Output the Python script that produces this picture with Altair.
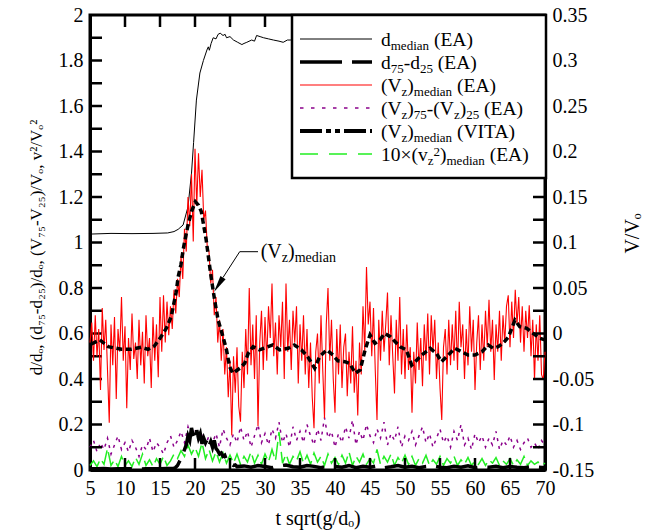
import altair as alt
import pandas as pd

FONT = "Liberation Serif"
W, H = 455, 455

# ---------------- data ----------------
# d_median (EA), d/d_o
dmed_t = [5.0, 8.0, 11.0, 14.0, 16.1, 17.0, 17.6, 18.3, 19.0, 19.5, 19.8, 20.2, 20.7, 21.2, 21.7,
          21.9, 22.05, 22.3, 22.6, 23.0, 23.3, 23.6, 24.0, 24.3, 24.5, 25.0, 25.5, 26.1, 26.7, 27.0,
          27.4, 28.1, 28.5, 28.8, 29.3, 29.8, 30.5, 31.2, 32.0, 32.6, 33.2, 33.6, 36.0, 40.0, 45.0,
          50.0, 55.0, 60.0, 65.0, 70.0]
dmed_v = [1.037, 1.040, 1.039, 1.040, 1.042, 1.048, 1.058, 1.077, 1.157, 1.305, 1.440, 1.626, 1.745, 1.800, 1.846,
          1.860, 1.845, 1.875, 1.900, 1.895, 1.915, 1.920, 1.910, 1.915, 1.900, 1.905, 1.890, 1.880, 1.870, 1.875,
          1.880, 1.890, 1.885, 1.910, 1.905, 1.900, 1.895, 1.890, 1.885, 1.880, 1.890, 1.890, 1.900, 1.890, 1.900,
          1.900, 1.890, 1.900, 1.890, 1.900]

# d75-d25 (EA), d/d_o
dspr_t = [5, 6, 7, 8, 9, 10, 11, 12, 13, 14, 15, 16, 17,
          17.25, 17.5, 17.75, 18.0, 18.25, 18.5, 18.75, 19.0, 19.25, 19.5, 19.75, 20.0, 20.25, 20.5,
          20.75, 21.0, 21.25, 21.5, 21.75, 22.0, 22.25, 22.5, 22.75, 23.0, 23.25, 23.5, 23.75, 24.0,
          24.25, 24.5, 24.75, 25.0, 25.25, 25.5, 25.75, 26.0,
          27, 28, 29, 30, 31, 32, 33, 34, 35, 36, 37, 38, 39, 40, 41, 42, 43, 44, 45, 46, 47, 48,
          49, 50, 51, 52, 53, 54, 55, 56, 57, 58, 59, 60, 61, 62, 63, 64, 65, 66, 67, 68, 69, 70]
dspr_v = [0.006, 0.005, 0.007, 0.004, 0.006, 0.005, 0.006, 0.004, 0.005, 0.006, 0.005, 0.007, 0.008,
          0.012, 0.020, 0.035, 0.050, 0.070, 0.090, 0.110, 0.150, 0.130, 0.185, 0.150, 0.130, 0.175, 0.140,
          0.160, 0.115, 0.140, 0.120, 0.135, 0.105, 0.125, 0.100, 0.130, 0.095, 0.085, 0.070, 0.075, 0.060,
          0.065, 0.045, 0.040, 0.030, 0.025, 0.020, 0.022, 0.015,
          0.018, 0.012, 0.020, 0.015, 0.010, 0.018, 0.022, 0.014, 0.012, 0.020, 0.016, 0.010, 0.018, 0.015,
          0.012, 0.020, 0.010, 0.016, 0.012, 0.018, 0.010, 0.014, 0.020, 0.012, 0.016, 0.010, 0.015, 0.018,
          0.012, 0.010, 0.016, 0.012, 0.018, 0.010, 0.014, 0.012, 0.016, 0.010, 0.015, 0.012, 0.010, 0.014,
          0.012, 0.010]

# (Vz)median (EA), V/V_o, one value every 0.25 from t = 5
red_a = [-0.010, 0.012, -0.030, 0.020, -0.025, 0.005, -0.062, 0.028, -0.018, 0.015,
         -0.040, -0.098, 0.010, -0.035, 0.018, -0.072, 0.005, -0.020, 0.040, -0.030,
         0.008, -0.082, -0.005, -0.040, 0.022, -0.028, -0.010, -0.050, 0.015, -0.035,
         0.002, -0.055, 0.020, -0.025, -0.005, -0.060, 0.018, -0.030, 0.010, -0.048,
         0.040]
red_b = [-0.020, 0.042, -0.010, 0.035, -0.002, 0.030, 0.005, 0.048, 0.022, 0.060,
         0.040, 0.085, 0.060, 0.115, 0.090, 0.150, 0.118, 0.175, 0.101, 0.203,
         0.140, 0.198, 0.150, 0.180, 0.125, 0.135, 0.095, 0.090, 0.055, 0.070,
         0.020, 0.040, -0.010, 0.015, -0.030, 0.005, -0.045, -0.015, -0.070, -0.030,
         -0.112, -0.025, -0.065, -0.015, -0.080, -0.097, -0.020, -0.060, 0.005, -0.045,
         0.050, -0.035]
red_c = [0.010, -0.050, 0.020, -0.102, -0.010, 0.025, -0.040, 0.018, -0.030, 0.030,
         -0.005, 0.055, -0.025, 0.012, -0.045, 0.020, -0.015, 0.035, -0.050, 0.055,
         -0.020, 0.015, -0.040, 0.025, -0.010, 0.030, -0.055, 0.010, -0.030, 0.020,
         -0.045, 0.005, -0.060, -0.010, -0.070, -0.104, -0.020, 0.000, -0.055, 0.020,
         -0.040, -0.093, 0.010, 0.050, -0.030, 0.015, -0.050, -0.087]
red_d = [0.005, -0.045, 0.010, -0.060, -0.015, 0.000, -0.069, -0.020, -0.055, 0.008,
         -0.065, -0.030, -0.090, -0.010, -0.045, 0.030, -0.020, 0.073, 0.010, 0.035,
         -0.025, 0.028, -0.040, -0.095, 0.015, -0.030, 0.025, -0.020, 0.010, 0.045,
         -0.035, 0.020, -0.025, -0.066, 0.015, -0.030, 0.040, -0.045, 0.005, -0.050,
         0.010, -0.040, -0.015, -0.087, -0.020, -0.055, 0.012, -0.040, -0.005, -0.058,
         0.010, -0.030, 0.022, -0.045, 0.020, -0.020, 0.015, -0.050, -0.010, -0.060,
         -0.095, -0.015, 0.005, -0.045, 0.015, -0.035, 0.010, -0.030, 0.025, -0.040,
         0.035, -0.015, 0.010, -0.050, 0.005, -0.035, 0.030, -0.020, 0.015, -0.062,
         -0.010, 0.020, -0.040, 0.010, -0.030, 0.025, -0.015, 0.037, -0.020, 0.015,
         -0.051, 0.010, -0.020, 0.025, -0.030, 0.020, -0.010, 0.030, 0.042, -0.015,
         0.035, -0.005, 0.048, 0.010, 0.040, -0.010, 0.030, -0.020, 0.025, -0.005,
         0.031, -0.025, 0.015, -0.051, 0.010, -0.030, 0.020, -0.045, -0.051, -0.020]
red_v = red_a + red_b + red_c + red_d
red_t = [5.0 + 0.25 * i for i in range(len(red_v))]

# (Vz)median (VITA), V/V_o
vita_t = [5.2, 6.4, 7.6, 9.5, 10.9, 12.3, 13.3, 14.2, 15.0, 15.9, 16.6, 16.9, 17.3, 17.6, 18.0,
          18.3, 18.5, 19.0, 19.5, 20.05, 20.5, 20.9, 21.6, 22.3, 22.8, 23.3, 24.0, 24.5, 24.95, 25.4,
          26.4, 27.1, 27.6, 28.3, 29.2, 30.2, 31.1, 32.1, 33.3, 34.2, 35.2, 36.1, 37.1, 37.8, 38.8,
          39.7, 40.4, 41.4, 42.1, 42.9, 43.6, 44.3, 45.0, 45.7, 46.4, 47.1, 47.9, 48.6, 49.3, 50.2,
          50.95, 51.7, 52.4, 53.6, 54.5, 55.2, 56.2, 57.1, 58.1, 59.0, 60.0, 61.0, 61.9, 62.6, 63.3,
          64.0, 64.8, 65.7, 66.4, 67.4, 68.3, 69.3, 70.0]
vita_v = [-0.0115, -0.0070, -0.0145, -0.0174, -0.0174, -0.0152, -0.0174, -0.0137, -0.0053, 0.0057, 0.0185, 0.0300, 0.0450, 0.0624, 0.0760,
          0.0918, 0.1000, 0.1190, 0.1340, 0.1448, 0.1410, 0.1340, 0.1027, 0.0620, 0.0370, 0.0148, -0.0035, -0.0180, -0.0365, -0.0437,
          -0.0382, -0.0327, -0.0218, -0.0145, -0.0180, -0.0152, -0.0126, -0.0180, -0.0163, -0.0126, -0.0180, -0.0255, -0.0382, -0.0255, -0.0180,
          -0.0236, -0.0300, -0.0310, -0.0330, -0.0437, -0.0400, -0.0180, -0.0016, -0.0108, -0.0071, 0.0002, -0.0035, -0.0090, -0.0145, -0.0180,
          -0.0346, -0.0290, -0.0236, -0.0163, -0.0218, -0.0310, -0.0236, -0.0163, -0.0200, -0.0236, -0.0236, -0.0200, -0.0126, -0.0163, -0.0145,
          -0.0108, -0.0035, 0.0148, 0.0075, 0.0057, 0.0002, -0.0053, -0.0071]

# (Vz)75-(Vz)25 (EA), one value every 0.5 from t = 5
purple_v = [0.10, 0.13, 0.08, 0.12, 0.09, 0.14, 0.07, 0.11, 0.15, 0.09, 0.12,
            0.08, 0.13, 0.10, 0.06, 0.11, 0.09, 0.14, 0.08, 0.12, 0.10,
            0.07, 0.12, 0.15, 0.10, 0.13, 0.17, 0.12, 0.19, 0.14, 0.18,
            0.13, 0.17, 0.11, 0.15, 0.12, 0.16, 0.10, 0.18, 0.14, 0.11,
            0.16, 0.12, 0.19, 0.13, 0.17, 0.10, 0.15, 0.20, 0.12, 0.16,
            0.11, 0.18, 0.14, 0.21, 0.12, 0.16, 0.10, 0.19, 0.13, 0.17,
            0.12, 0.20, 0.15, 0.11, 0.18, 0.13, 0.23, 0.14, 0.17, 0.10,
            0.16, 0.12, 0.19, 0.14, 0.22, 0.11, 0.17, 0.13, 0.20, 0.15,
            0.12, 0.18, 0.14, 0.21, 0.11, 0.16, 0.13, 0.19, 0.10, 0.15,
            0.13, 0.17, 0.11, 0.15, 0.19, 0.12, 0.16, 0.10, 0.14, 0.18,
            0.12, 0.15, 0.10, 0.17, 0.13, 0.20, 0.11, 0.14, 0.09, 0.16,
            0.12, 0.15, 0.10, 0.14, 0.11, 0.17, 0.09, 0.13, 0.11, 0.15,
            0.10, 0.13, 0.09, 0.12, 0.14, 0.10, 0.12, 0.09, 0.13, 0.11]
purple_t = [5.0 + 0.5 * i for i in range(len(purple_v))]

# 10 x (vz^2)median (EA), one value every 0.5 from t = 5
green_v = [0.020, 0.040, 0.015, 0.050, 0.025, 0.095, 0.020, 0.045, 0.015, 0.060, 0.020,
           0.040, 0.015, 0.055, 0.025, 0.070, 0.020, 0.045, 0.015, 0.050, 0.025,
           0.060, 0.020, 0.040, 0.070, 0.050, 0.085, 0.060, 0.110, 0.070, 0.100,
           0.060, 0.120, 0.050, 0.090, 0.040, 0.080, 0.035, 0.075, 0.030, 0.065,
           0.030, 0.070, 0.025, 0.060, 0.035, 0.080, 0.030, 0.065, 0.025, 0.070,
           0.035, 0.090, 0.040, 0.167, 0.030, 0.070, 0.025, 0.060, 0.040, 0.080,
           0.030, 0.065, 0.025, 0.075, 0.035, 0.060, 0.020, 0.070, 0.030, 0.055,
           0.025, 0.065, 0.030, 0.080, 0.020, 0.060, 0.035, 0.070, 0.025, 0.050,
           0.030, 0.090, 0.025, 0.060, 0.035, 0.070, 0.020, 0.055, 0.030, 0.065,
           0.025, 0.060, 0.020, 0.050, 0.030, 0.065, 0.020, 0.045, 0.025, 0.060,
           0.020, 0.050, 0.030, 0.060, 0.020, 0.045, 0.025, 0.055, 0.020, 0.040,
           0.025, 0.050, 0.020, 0.045, 0.030, 0.055, 0.020, 0.040, 0.025, 0.050,
           0.020, 0.045, 0.025, 0.060, 0.020, 0.040, 0.025, 0.035, 0.020, 0.030]
green_t = [5.0 + 0.5 * i for i in range(len(green_v))]

# axis tick values
x_labels = [5, 10, 15, 20, 25, 30, 35, 40, 45, 50, 55, 60, 65, 70]
x_ticks = [10, 15, 20, 25, 30, 35, 40, 45, 50, 55, 60, 65]
yl_labels = [0, 0.2, 0.4, 0.6, 0.8, 1, 1.2, 1.4, 1.6, 1.8, 2]
yl_ticks = [0.1, 0.2, 0.3, 0.4, 0.5, 0.6, 0.7, 0.8, 0.9, 1.0, 1.1, 1.2, 1.3, 1.4, 1.5, 1.6, 1.7, 1.8, 1.9]
yr_labels = [-0.15, -0.1, -0.05, 0, 0.05, 0.1, 0.15, 0.2, 0.25, 0.3, 0.35]
yr_ticks = [-0.125, -0.1, -0.075, -0.05, -0.025, 0, 0.025, 0.05, 0.075, 0.1, 0.125, 0.15,
            0.175, 0.2, 0.225, 0.25, 0.275, 0.3, 0.325]

# ---------------- scales / axes ----------------
common_axis = dict(labelFont=FONT, labelFontSize=20, labelColor="black", titleFont=FONT,
                   titleFontWeight="normal", titleColor="black", ticks=False,
                   domainColor="black", domainWidth=3, grid=False, labelFlush=False,
                   labelOverlap=False, labelExpr="'' + datum.value")

sx = alt.Scale(domain=[5, 70], nice=False, zero=False)
ax_x = alt.Axis(values=x_labels, title="t sqrt(g/dₒ)", labelPadding=8, titleY=54,
                titleFontSize=20, titleBaseline="alphabetic", **common_axis)
sL = alt.Scale(domain=[0, 2], nice=False, zero=False)
ax_l = alt.Axis(values=yl_labels, orient="left", labelPadding=7,
                title="d/dₒ, (d₇₅-d₂₅)/dₒ, (V₇₅-V₂₅)/Vₒ, v²/Vₒ²", titleFontSize=17,
                titleX=-54, titleY=232, titleAngle=270, titleAlign="center",
                titleBaseline="middle", **common_axis)
sR = alt.Scale(domain=[-0.15, 0.35], nice=False, zero=False)
ax_r = alt.Axis(values=yr_labels, orient="right", labelPadding=7, title="V/Vₒ",
                titleFontSize=20, titleX=87, titleY=218, titleAngle=270, titleAlign="center",
                titleBaseline="middle", **common_axis)

X = alt.X("t:Q", scale=sx, axis=ax_x)
YL = alt.Y("v:Q", scale=sL, axis=ax_l)
YR = alt.Y("v:Q", scale=sR, axis=ax_r)


def df(t, v):
    return pd.DataFrame({"t": t, "v": v})


PURPLE = "#8b008b"
GREEN = "#22ee22"
RED = "#ff0000"

# ---------------- left-scale group ----------------
l_dmed = alt.Chart(df(dmed_t, dmed_v)).mark_line(color="black", strokeWidth=1).encode(x=X, y=YL)
l_purple = alt.Chart(df(purple_t, purple_v)).mark_line(color=PURPLE, strokeWidth=1.5,
                                                        strokeDash=[3, 5]).encode(x=X, y=YL)
l_green = alt.Chart(df(green_t, green_v)).mark_line(color=GREEN, strokeWidth=1.5,
                                                     strokeDash=[18, 6]).encode(x=X, y=YL)
l_dspr = alt.Chart(df(dspr_t, dspr_v)).mark_line(color="black", strokeWidth=3.5,
                                                  strokeDash=[42, 10]).encode(x=X, y=YL)
l_ticks = alt.Chart(pd.DataFrame({"v": yl_ticks})).mark_rule(color="black", strokeWidth=2.5).encode(
    y=YL, x=alt.value(0), x2=alt.value(12))
top_ticks = alt.Chart(pd.DataFrame({"t": x_ticks})).mark_rule(color="black", strokeWidth=2.5).encode(
    x=X, y=alt.value(0), y2=alt.value(12))
bot_ticks = alt.Chart(pd.DataFrame({"t": x_ticks})).mark_rule(color="black", strokeWidth=2.5).encode(
    x=X, y=alt.value(H - 12), y2=alt.value(H))
left_group = alt.layer(l_dmed, l_purple, l_green, l_dspr, l_ticks, top_ticks, bot_ticks)

# ---------------- right-scale group ----------------
r_red = alt.Chart(df(red_t, red_v)).mark_line(color=RED, strokeWidth=1.1).encode(x=X, y=YR)
r_vita = alt.Chart(df(vita_t, vita_v)).mark_line(color="black", strokeWidth=3.5,
                                                  strokeDash=[6, 3.5]).encode(x=X, y=YR)
r_ticks = alt.Chart(pd.DataFrame({"v": yr_ticks})).mark_rule(color="black", strokeWidth=2.5).encode(
    y=YR, x=alt.value(W - 12), x2=alt.value(W))
right_group = alt.layer(r_red, r_vita, r_ticks)

# ---------------- overlays (annotation + legend) ----------------
one = pd.DataFrame({"k": [0]})
WID = {'d': 0.5, '(': 0.333, ')': 0.333, 'V': 0.722, 'E': 0.611, 'A': 0.722, '-': 0.333,
       ' ': 0.25, 'm': 0.778, 'e': 0.444, 'i': 0.278, 'a': 0.444, 'n': 0.5, 'z': 0.444,
       'I': 0.333, 'T': 0.611, '×': 0.564, 'v': 0.5}


def text_width(s, size):
    return sum(WID.get(c, 0.5) for c in s) * size


def rich(pieces, x0, y0, main=20, small=14):
    out = []
    x = x0
    for txt, kind in pieces:
        size = main if kind == "n" else small
        dy = {"n": 0, "sub": 4, "sup": -5}[kind]
        lead = len(txt) - len(txt.lstrip(" "))
        x += lead * 0.25 * size
        t = txt.strip()
        out.append(alt.Chart(one).mark_text(text=t, font=FONT, fontSize=size, align="left",
                                            baseline="alphabetic", color="black")
                   .encode(x=alt.value(x), y=alt.value(y0 + dy)))
        x += text_width(t, size)
    return out


overlay = []
# annotation arrow to the VITA curve
overlay.append(alt.Chart(one).mark_rule(color="black", strokeWidth=1).encode(
    x=alt.value(168), x2=alt.value(149.7), y=alt.value(236.7), y2=alt.value(236.7)))
overlay.append(alt.Chart(one).mark_rule(color="black", strokeWidth=1).encode(
    x=alt.value(149.7), x2=alt.value(133), y=alt.value(236.7), y2=alt.value(262.5)))
overlay.append(alt.Chart(one).mark_point(shape="M0,-1L0.36,1L-0.36,1Z", size=289, angle=212,
                                         filled=True, color="black", opacity=1).encode(
    x=alt.value(128.5), y=alt.value(269.8)))
overlay += rich([("(V", "n"), ("z", "sub"), (")", "n"), ("median", "sub")], 170.7, 243)

# legend box
overlay.append(alt.Chart(one).mark_rect(fill="white", stroke="black", strokeWidth=2.5).encode(
    x=alt.value(202), x2=alt.value(456), y=alt.value(0), y2=alt.value(163)))

legend_rows = [
    (dict(color="black", strokeWidth=1),
     [("d", "n"), ("median", "sub"), (" (EA)", "n")]),
    (dict(color="black", strokeWidth=3.5, strokeDash=[42, 10]),
     [("d", "n"), ("75", "sub"), ("-d", "n"), ("25", "sub"), (" (EA)", "n")]),
    (dict(color=RED, strokeWidth=1.2),
     [("(V", "n"), ("z", "sub"), (")", "n"), ("median", "sub"), (" (EA)", "n")]),
    (dict(color=PURPLE, strokeWidth=1.5, strokeDash=[3.5, 7.5]),
     [("(V", "n"), ("z", "sub"), (")", "n"), ("75", "sub"), ("-(V", "n"), ("z", "sub"),
      (")", "n"), ("25", "sub"), (" (EA)", "n")]),
    (dict(color="black", strokeWidth=4, strokeDash=[22, 4, 5, 4, 5, 4]),
     [("(V", "n"), ("z", "sub"), (")", "n"), ("median", "sub"), (" (VITA)", "n")]),
    (dict(color=GREEN, strokeWidth=1.5, strokeDash=[18, 11]),
     [("10×(v", "n"), ("z", "sub"), ("2", "sup"), (")", "n"), ("median", "sub"), (" (EA)", "n")]),
]
row_y0 = 24
row_dy = 23
for i, (style, pieces) in enumerate(legend_rows):
    yy = row_y0 + i * row_dy
    overlay.append(alt.Chart(one).mark_rule(**style).encode(
        x=alt.value(210), x2=alt.value(282), y=alt.value(yy), y2=alt.value(yy)))
    overlay += rich(pieces, 291, yy + 7, main=19.5, small=13)

chart = alt.layer(left_group, right_group, *overlay).resolve_scale(y="independent").properties(
    width=W, height=H,
    padding={"left": 90, "top": 15, "right": 115, "bottom": 62},
    autosize=alt.AutoSizeParams(type="none"),
    background="white",
).configure_view(stroke="black", strokeWidth=3)

chart.save("out.html", embed_options={"renderer": "svg", "actions": False})
